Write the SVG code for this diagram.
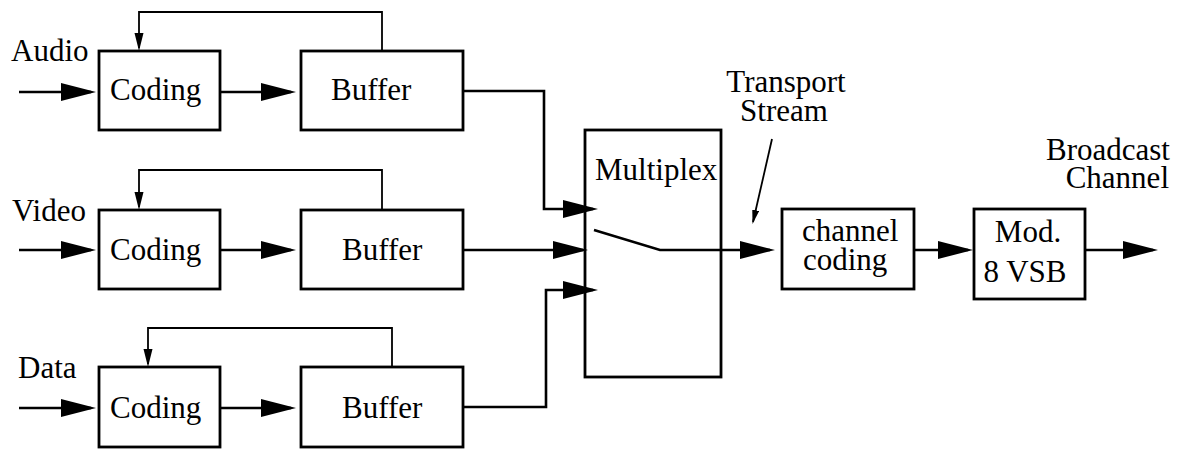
<svg xmlns="http://www.w3.org/2000/svg" width="1178" height="449" viewBox="0 0 1178 449">
<style>
.box{fill:none;stroke:#000;stroke-width:2.8}
.ln{fill:none;stroke:#000;stroke-width:2.6}
.fb{fill:none;stroke:#000;stroke-width:1.8}
.t{font-family:"Liberation Serif","Times New Roman",serif;font-size:31px;fill:#000}
</style>
<defs>
<marker id="big" markerUnits="userSpaceOnUse" markerWidth="35" markerHeight="20" refX="30" refY="10" orient="auto"><path d="M0,1 L35,10 L0,19 Z" fill="#000"/></marker>
<marker id="small" markerUnits="userSpaceOnUse" markerWidth="18" markerHeight="10" refX="15" refY="5" orient="auto"><path d="M0,0.5 L18,5 L0,9.5 Z" fill="#000"/></marker>
<marker id="tiny" markerUnits="userSpaceOnUse" markerWidth="14" markerHeight="8" refX="12" refY="4" orient="auto"><path d="M0,0.5 L14,4 L0,7.5 Z" fill="#000"/></marker>
</defs>
<rect width="1178" height="449" fill="#fff"/>
<g id="labels">
<text class="t" x="11" y="61">Audio</text>
<text class="t" x="12" y="221">Video</text>
<text class="t" x="18" y="378">Data</text>
<text class="t" x="786" y="92" text-anchor="middle">Transport</text>
<text class="t" x="784" y="121" text-anchor="middle">Stream</text>
<text class="t" x="1170" y="160" text-anchor="end">Broadcast</text>
<text class="t" x="1169" y="188" text-anchor="end">Channel</text>
</g>
<g id="audio-coding"><rect class="box" x="99" y="51" width="121" height="79"/><text class="t" x="110" y="100">Coding</text></g>
<g id="audio-buffer"><rect class="box" x="301" y="51" width="162" height="79"/><text class="t" x="331" y="100">Buffer</text></g>
<g id="video-coding"><rect class="box" x="99" y="210" width="121" height="79"/><text class="t" x="110" y="260">Coding</text></g>
<g id="video-buffer"><rect class="box" x="301" y="210" width="162" height="79"/><text class="t" x="342" y="260">Buffer</text></g>
<g id="data-coding"><rect class="box" x="99" y="367" width="121" height="80"/><text class="t" x="110" y="418">Coding</text></g>
<g id="data-buffer"><rect class="box" x="301" y="367" width="162" height="80"/><text class="t" x="342" y="418">Buffer</text></g>
<g id="multiplex"><rect class="box" x="585" y="130" width="136" height="247"/><text class="t" x="595" y="180">Multiplex</text></g>
<g id="channel-coding"><rect class="box" x="782" y="209" width="132" height="80"/><text class="t" x="802" y="241">channel</text><text class="t" x="803" y="270">coding</text></g>
<g id="modulator"><rect class="box" x="974" y="209" width="111" height="90"/><text class="t" x="1028" y="242" text-anchor="middle">Mod.</text><text class="t" x="1025" y="282" text-anchor="middle">8 VSB</text></g>
<g id="connectors">
<path class="ln" d="M19,92 H91" marker-end="url(#big)"/>
<path class="ln" d="M19,250 H91" marker-end="url(#big)"/>
<path class="ln" d="M19,408 H91" marker-end="url(#big)"/>
<path class="ln" d="M220,92 H291" marker-end="url(#big)"/>
<path class="ln" d="M220,250 H291" marker-end="url(#big)"/>
<path class="ln" d="M220,408 H291" marker-end="url(#big)"/>
<path class="fb" d="M382,51 V12 H139 V48" marker-end="url(#small)"/>
<path class="fb" d="M382,210 V170 H139 V207" marker-end="url(#small)"/>
<path class="fb" d="M392,367 V328 H148 V364" marker-end="url(#small)"/>
<path class="ln" d="M463,91 H544 V209 H593" marker-end="url(#big)"/>
<path class="ln" d="M463,250 H583" marker-end="url(#big)"/>
<path class="ln" d="M463,407 H546 V290 H593" marker-end="url(#big)"/>
<path class="ln" d="M594,230 L660,250 H770" marker-end="url(#big)"/>
<path class="ln" d="M914,250 H968" marker-end="url(#big)"/>
<path class="ln" d="M1085,250 H1153" marker-end="url(#big)"/>
<path class="fb" d="M772,139 L753,222" marker-end="url(#tiny)"/>
</g>
</svg>
